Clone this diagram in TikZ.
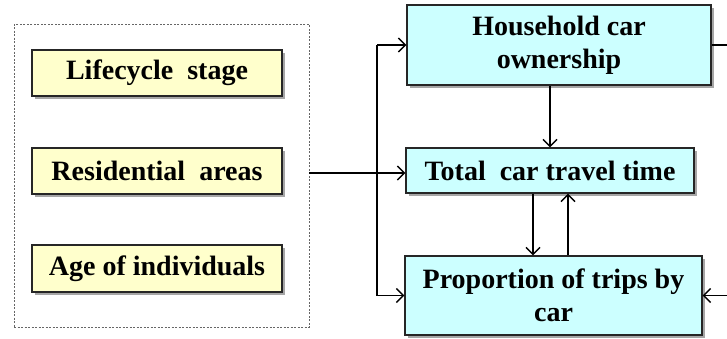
\documentclass[tikz,border=0pt]{standalone}
\usepackage{fontspec}
\setmainfont{Liberation Serif}[BoldFont={Liberation Serif Bold}]
\usetikzlibrary{arrows.meta,shadows}
\definecolor{boxyellow}{HTML}{FFFFCC}
\definecolor{boxcyan}{HTML}{CCFFFF}
\begin{document}
\begin{tikzpicture}[x=1pt,y=-1pt,
  base/.style={draw=black!85, line width=1.2pt, inner sep=0pt, align=center,
    font=\rmfamily\bfseries\fontsize{28}{33}\selectfont,
    drop shadow={shadow xshift=2.5pt, shadow yshift=-2.5pt, fill=black, opacity=0.35}},
  ybox/.style={base, fill=boxyellow},
  cbox/.style={base, fill=boxcyan},
  frame/.style={draw=black!60, dash pattern=on 2pt off 1.5pt, line width=0.7pt},
  conn/.style={line width=1.4pt, draw=black},
  arr/.style={conn, -{Straight Barb[length=7pt, width=14pt, line width=1.4pt]}}
]
\useasboundingbox (0,0) rectangle (727,338);
\fill[white] (0,0) rectangle (727,338);
% group frame
\node[frame, minimum width=295pt, minimum height=303pt] (grp) at (161.5,175.5) {};
% left boxes
\node[ybox, minimum width=250pt, minimum height=46pt] (lc) at (157,73) {Lifecycle\ \ stage};
\node[ybox, minimum width=250pt, minimum height=46pt] (ra) at (157,171) {Residential\ \ areas};
\node[ybox, minimum width=250pt, minimum height=47pt] (ag) at (157,268.5) {Age of individuals};
% right boxes
\node[cbox, minimum width=304pt, minimum height=80pt] (hh) at (559,45) {Household car\\ownership};
\node[cbox, minimum width=288pt, minimum height=45pt] (tt) at (550,170.5) {Total\ \ car travel time};
\node[cbox, minimum width=297pt, minimum height=79pt] (pp) at (553.5,295.5) {Proportion of trips by\\car};
% connectors
\coordinate (j) at (377,173);
\coordinate (r1) at (727,45);
\coordinate (r2) at (727,295.5);
\draw[arr] (grp.east |- j) -- (tt.west |- j);
\draw[conn] (j |- hh.west) -- (j |- pp.west);
\draw[arr] (j |- hh.west) -- (hh.west);
\draw[arr] (j |- pp.west) -- (pp.west);
\draw[arr] (hh.south -| tt.north) -- (tt.north);
\draw[arr] ([xshift=-17pt]tt.south) -- ([xshift=-20.5pt]pp.north);
\draw[arr] ([xshift=14.5pt]pp.north) -- ([xshift=18pt]tt.south);
\draw[conn] (hh.east) -- (r1);
\draw[arr] (r2) -- (pp.east);
\end{tikzpicture}
\end{document}
